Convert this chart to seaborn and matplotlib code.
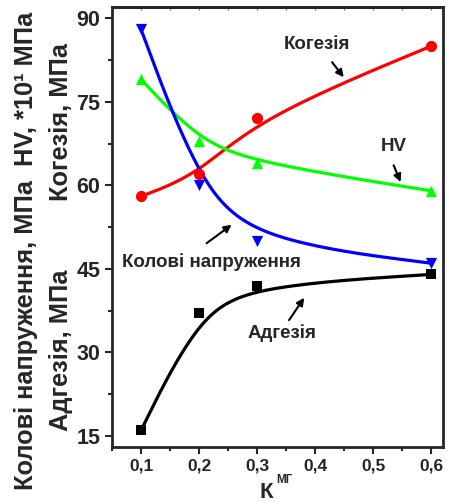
import numpy as np
import matplotlib
matplotlib.use("Agg")
import matplotlib.pyplot as plt
import seaborn as sns
from matplotlib.ticker import MultipleLocator

# ---- data ----
k_mg = [0.1, 0.2, 0.3, 0.6]
adhesion = [16, 37, 42, 44]            # Адгезія, МПа
cohesion = [58, 62, 72, 85]            # Когезія, МПа
hardness = [79, 68, 64, 59]            # HV, *10^1 МПа
hoop_stress = [88, 60, 50, 46]         # Колові напруження, МПа

x_ticks = [0.1, 0.2, 0.3, 0.4, 0.5, 0.6]
x_tick_labels = ["0,1", "0,2", "0,3", "0,4", "0,5", "0,6"]
y_ticks = [15, 30, 45, 60, 75, 90]

sns.set_style("ticks")
plt.rcParams['font.family'] = ['Liberation Sans', 'DejaVu Sans']
plt.rcParams['font.weight'] = 'bold'


def bspline_curve(xp, yp, n=60):
    """Uniform cubic B-spline with the data points as control points and the
    end points repeated (Origin 'B-Spline' connection)."""
    P = np.column_stack([xp, yp]).astype(float)
    ctrl = np.vstack([P[:1], P[:1], P, P[-1:], P[-1:]])
    t = np.linspace(0, 1, n)[:, None]
    b0 = (1 - t) ** 3
    b1 = 3 * t ** 3 - 6 * t ** 2 + 4
    b2 = -3 * t ** 3 + 3 * t ** 2 + 3 * t + 1
    b3 = t ** 3
    segs = []
    for i in range(len(ctrl) - 3):
        q = ctrl[i:i + 4]
        segs.append((b0 * q[0] + b1 * q[1] + b2 * q[2] + b3 * q[3]) / 6)
    c = np.vstack(segs)
    return c[:, 0], c[:, 1]


fig = plt.figure(figsize=(4.49, 5.04), dpi=100)
ax = fig.add_axes([0.2494, 0.113, 0.7372, 0.873])

series = [
    (adhesion, 'black', 's', 55),
    (cohesion, '#ff0000', 'o', 65),
    (hardness, '#00ff00', '^', 65),
    (hoop_stress, '#0000ff', 'v', 65),
]
for vals, col, mk, ms in series:
    cx, cy = bspline_curve(k_mg, vals)
    sns.lineplot(x=cx, y=cy, ax=ax, color=col, lw=2.3, zorder=2, sort=False)
    sns.scatterplot(x=k_mg, y=vals, ax=ax, color=col, marker=mk, s=ms,
                    edgecolor=col, linewidth=0, zorder=3)

ax.set_xlim(0.05, 0.62)
ax.set_ylim(13, 92)
ax.set_xticks(x_ticks)
ax.set_xticklabels(x_tick_labels)
ax.set_yticks(y_ticks)
ax.xaxis.set_minor_locator(MultipleLocator(0.05))
ax.yaxis.set_minor_locator(MultipleLocator(7.5))
ax.tick_params(axis='both', which='major', direction='out', length=5, width=1.5)
ax.tick_params(axis='both', which='minor', direction='out', length=3, width=1.5)
ax.tick_params(axis='y', labelsize=15.5)
ax.tick_params(axis='x', labelsize=12.5)
for lab in ax.get_xticklabels() + ax.get_yticklabels():
    lab.set_fontweight('bold')
for s in ax.spines.values():
    s.set_linewidth(2)
    s.set_visible(True)

# faint inward ticks on the top edge
top = ax.secondary_xaxis('top')
top.set_xticks(x_ticks)
top.xaxis.set_minor_locator(MultipleLocator(0.05))
top.tick_params(which='both', direction='in', length=2.5, width=0.8,
                color='#666666', labeltop=False)
top.spines['top'].set_linewidth(2)

arrow = dict(arrowstyle='-|>', lw=1.5, color='black', mutation_scale=11,
             shrinkA=0, shrinkB=0)
fs = 13.5
ax.text(0.403, 85.2, "Когезія", ha='center', va='center', fontsize=fs, fontweight='bold')
ax.annotate("", xy=(0.449, 79.4), xytext=(0.429, 82.1), arrowprops=arrow)
ax.text(0.535, 66.9, "HV", ha='center', va='center', fontsize=fs, fontweight='bold')
ax.annotate("", xy=(0.547, 60.6), xytext=(0.535, 63.6), arrowprops=arrow)
ax.text(0.222, 46.2, "Колові напруження", ha='center', va='center', fontsize=fs, fontweight='bold')
ax.annotate("", xy=(0.256, 52.9), xytext=(0.213, 49.6), arrowprops=arrow)
ax.text(0.343, 33.5, "Адгезія", ha='center', va='center', fontsize=fs, fontweight='bold')
ax.annotate("", xy=(0.381, 39.8), xytext=(0.355, 35.8), arrowprops=arrow)

# axis labels
fig.text(26 / 449, 0.502, "Колові напруження, МПа  HV, *10¹ МПа", rotation=90,
         ha='center', va='center', fontsize=18.3, fontweight='bold')
fig.text(61 / 449, 1 - 350 / 504, "Адгезія, МПа", rotation=90,
         ha='center', va='center', fontsize=18.3, fontweight='bold')
fig.text(61 / 449, 1 - 122 / 504, "Когезія, МПа", rotation=90,
         ha='center', va='center', fontsize=18.3, fontweight='bold')
fig.text(266 / 449, 1 - 493 / 504, "К", ha='center', va='center',
         fontsize=16, fontweight='bold')
fig.text(284 / 449, 1 - 480 / 504, "МГ", ha='center', va='center',
         fontsize=8.5, fontweight='bold')

fig.savefig("out.png", dpi=100)
